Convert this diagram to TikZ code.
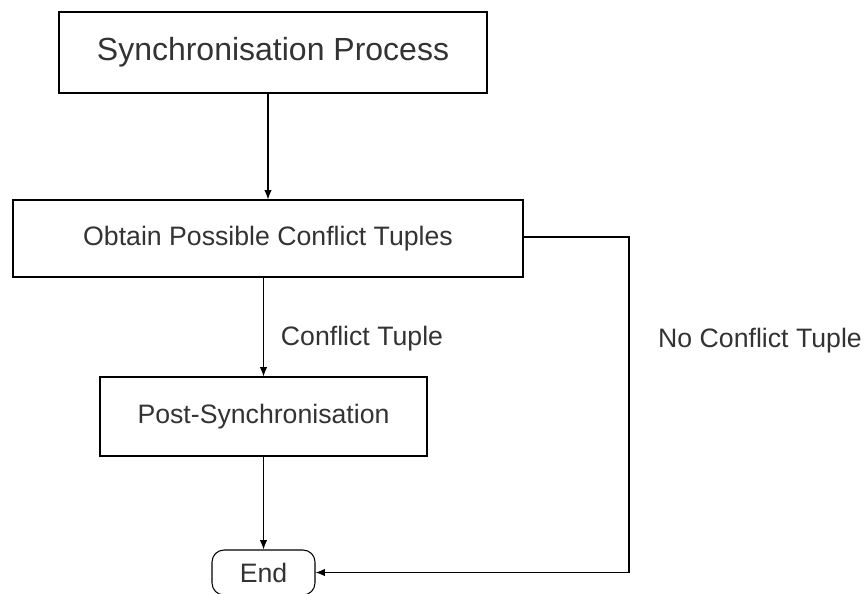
\documentclass[tikz,border=0pt]{standalone}
\usepackage{fontspec}
\setmainfont{Liberation Sans}
\usetikzlibrary{arrows.meta}

\tikzset{
    stepbox/.style={draw, line width=0.8pt, inner sep=0pt, align=center, text=black!80},
    endbox/.style={draw, line width=0.8pt, rounded corners=9pt, inner sep=0pt, text=black!80},
    flow/.style={line width=0.8pt, -{Latex[length=7pt,width=5.5pt]}},
    tag/.style={font=\fontsize{20}{23}\selectfont, text=black!80}
}

\begin{document}
\begin{tikzpicture}[x=0.75pt,y=-0.75pt]
    \useasboundingbox (0,0) rectangle (868,593);
    % boxes
    \node[stepbox, minimum width=321pt, minimum height=60.75pt,
          font=\fontsize{24}{28}\selectfont] (sync) at (273,52.5) {Synchronisation Process};
    \node[stepbox, minimum width=382.5pt, minimum height=57.75pt,
          font=\fontsize{20}{23}\selectfont] (obtain) at (268,238.5) {Obtain Possible Conflict Tuples};
    \node[stepbox, minimum width=245.25pt, minimum height=59.25pt,
          font=\fontsize{20}{23}\selectfont] (post) at (263.5,416.5) {Post-Synchronisation};
    \node[endbox, minimum width=77.25pt, minimum height=33.75pt,
          font=\fontsize{20}{23}\selectfont] (end) at (263.5,572.5) {End};
    % labels
    \node[tag] (yes) at (362,339) {Conflict Tuple};
    \node[tag] (no) at (760,341) {No Conflict Tuple};
    \coordinate (turn) at (629,237);
    % connectors
    \draw[flow] (sync.south -| obtain.north) -- (obtain.north);
    \draw[flow] (post.north |- obtain.south) -- (post.north);
    \draw[flow] (post.south) -- (end.north);
    \draw[flow] (obtain.east |- turn) -- (turn) |- (end.east);
\end{tikzpicture}
\end{document}
